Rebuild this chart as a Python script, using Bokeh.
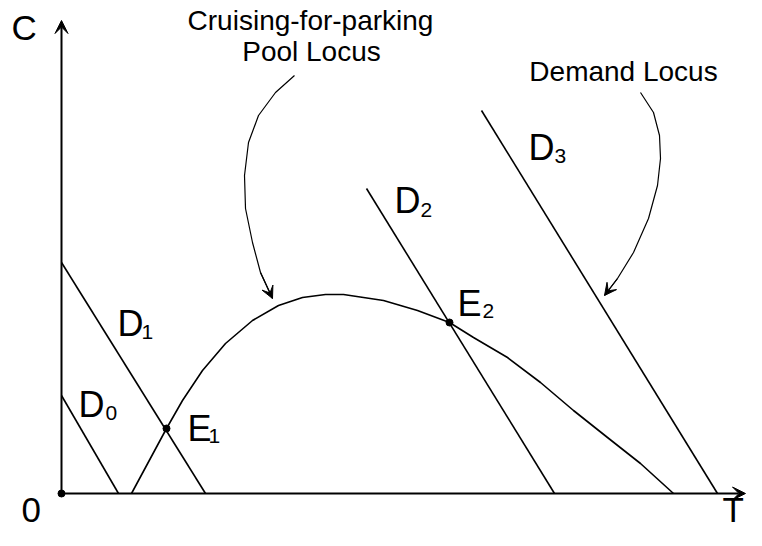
from bokeh.plotting import figure
from bokeh.models import Range1d, Arrow, VeeHead
from bokeh.core.properties import value
from bokeh.embed import file_html
from bokeh.resources import INLINE

# ---- data (T along horizontal, C along vertical) ----
# Demand lines: start point -> point on the T axis (C = 0)
d0_T = [0, 57]
d0_C = [98, 0]
d1_T = [0, 144]
d1_C = [231, 0]
d2_T = [305, 493]
d2_C = [305, 0]
d3_T = [420, 656]
d3_C = [383, 0]

# Cruising-for-parking pool locus
pool_T = [70, 84, 105, 121, 141, 164, 191, 217, 241, 264, 282, 322, 356,
          388, 412, 446, 479, 512, 546, 579, 612]
pool_C = [0, 26, 65, 93, 123, 150, 173, 188, 196, 199, 199, 193, 183,
          171, 156, 136, 111, 83, 56, 30, 0]

# Marked points (origin, E1, E2)
pts_T = [0, 105, 388]
pts_C = [0, 65, 171]

# Annotation arrows
cruise_T = [233, 214, 197, 187, 183, 184, 191, 199, 211]
cruise_C = [418, 401, 378, 351, 318, 285, 251, 221, 195]
demand_T = [579, 592, 598, 599, 596, 587, 572, 556, 543]
demand_C = [401, 381, 358, 335, 308, 275, 241, 215, 198]

# Labels
main_labels = ["D", "D", "E", "D", "D", "E"]
sub_labels = ["0", "1", "1", "2", "3", "2"]
axis_labels = ["C", "0", "T"]
title_lines = ["Cruising-for-parking", "Pool Locus", "Demand Locus"]

# ---- layout positions ----
TXT_SHIFT = 12  # compensates the renderer's baseline placement
main_x = [17, 56, 126, 333, 467, 396]
main_y = [77, 158, 53, 281, 334, 178]
sub_x = [44, 80, 147, 359, 493, 421]
sub_y = [69, 150, 46, 272, 326, 171]
axis_lab_x = [-50, -40, 661]
axis_lab_y = [454, -28, -28]
title_x = [249, 250, 562]
title_y = [461, 430, 410]

FONT = value("Liberation Sans")

p = figure(width=746, height=530, output_backend="svg", toolbar_location=None,
           x_range=Range1d(-61, 685), y_range=Range1d(-37, 493),
           x_axis_type=None, y_axis_type=None, min_border=0)
p.outline_line_color = None
p.grid.visible = False
p.background_fill_color = "white"
p.border_fill_color = "white"

# axes with arrows
p.add_layout(Arrow(end=VeeHead(size=13, fill_color="black", line_color="black"),
                   x_start=0, y_start=0, x_end=0, y_end=473,
                   line_width=2, line_color="black"))
p.add_layout(Arrow(end=VeeHead(size=13, fill_color="black", line_color="black"),
                   x_start=0, y_start=0, x_end=684, y_end=0,
                   line_width=2, line_color="black"))

lw = 1.6
for T, C in [(d0_T, d0_C), (d1_T, d1_C), (d2_T, d2_C), (d3_T, d3_C)]:
    p.line(T, C, line_color="black", line_width=lw)

p.line(pool_T, pool_C, line_color="black", line_width=lw, line_join="round")

p.scatter(pts_T, pts_C, size=7, color="black")

# curved annotation arrows
for T, C in [(cruise_T, cruise_C), (demand_T, demand_C)]:
    p.line(T, C, line_color="black", line_width=1.2, line_join="round")
    p.add_layout(Arrow(end=VeeHead(size=12, fill_color="black", line_color="black"),
                       x_start=T[-2], y_start=C[-2], x_end=T[-1], y_end=C[-1],
                       line_width=1.2, line_color="black"))

def shifted(ys):
    return [y + TXT_SHIFT for y in ys]

# labels
p.text(x=main_x, y=shifted(main_y), text=main_labels, text_font=FONT, text_font_size="36px",
       text_baseline="alphabetic", text_align="left", text_color="black")
p.text(x=sub_x, y=shifted(sub_y), text=sub_labels, text_font=FONT, text_font_size="21px",
       text_baseline="alphabetic", text_align="left", text_color="black")
p.text(x=axis_lab_x, y=shifted(axis_lab_y), text=axis_labels, text_font=FONT, text_font_size="35px",
       text_baseline="alphabetic", text_align="left", text_color="black")
p.text(x=title_x, y=shifted(title_y), text=title_lines, text_font=FONT, text_font_size="28px",
       text_baseline="alphabetic", text_align="center", text_color="black")

open("out.html", "w").write(file_html(p, INLINE))
